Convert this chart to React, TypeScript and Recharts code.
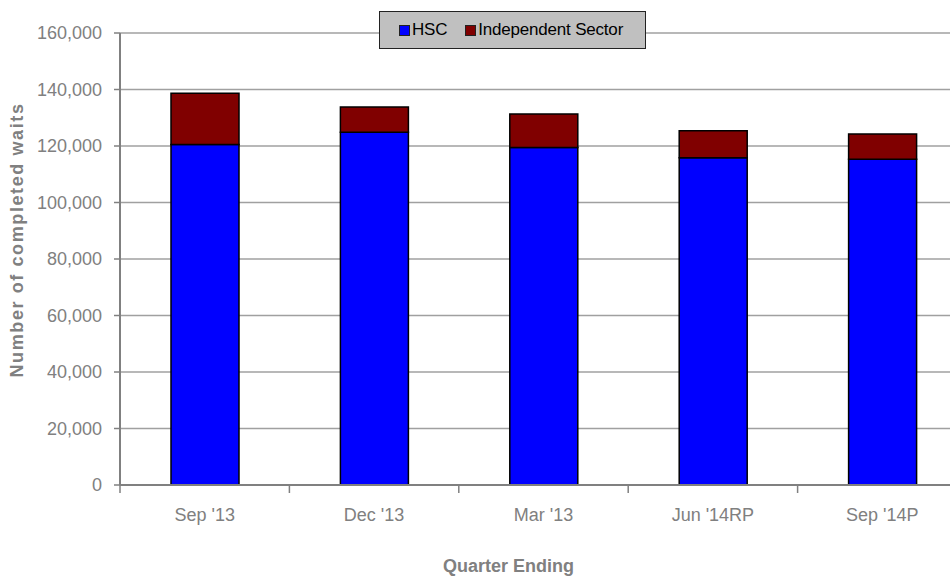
import React from 'react';
import { BarChart, Bar, XAxis, YAxis, CartesianGrid, Legend, Label } from 'recharts';

const quarters = ["Sep '13", "Dec '13", "Mar '13", "Jun '14RP", "Sep '14P"];
const hscValues = [120500, 124900, 119500, 115850, 115300];
const independentValues = [18200, 8900, 11800, 9550, 8950];
const yTicks = [0, 20000, 40000, 60000, 80000, 100000, 120000, 140000, 160000];

const rows = quarters.map((q, i) => ({ quarter: q, hsc: hscValues[i], independent: independentValues[i] }));

const CHART_W = 967;
const CHART_H = 576;
const PLOT_LEFT = 120;
const BAND = (CHART_W - PLOT_LEFT) / quarters.length;
const GREY = '#808080';
const LEGEND_H = 38;

function QuarterTick(props: any) {
  const { x, y, payload } = props;
  const edge = x - BAND / 2;
  return (
    <g>
      <line x1={edge} y1={y} x2={edge} y2={y + 8} stroke={GREY} strokeWidth={1.5} />
      <text x={x} y={y + 36} textAnchor="middle" fill={GREY} fontSize={18}>{payload.value}</text>
    </g>
  );
}

function LegendBox() {
  const item = (color: string, text: string) => (
    <span style={{ display: 'inline-flex', alignItems: 'center', marginRight: 18 }}>
      <span style={{ width: 9, height: 9, background: color, border: '1px solid #222', marginRight: 2 }} />
      <span style={{ fontSize: 17, color: '#000', letterSpacing: -0.2 }}>{text}</span>
    </span>
  );
  return (
    <div style={{ background: '#c0c0c0', border: '1.5px solid #222', height: LEGEND_H, display: 'flex', alignItems: 'center', paddingLeft: 19, boxSizing: 'border-box' }}>
      {item('#0000ff', 'HSC')}
      {item('#800000', 'Independent Sector')}
    </div>
  );
}

function YTitle(props: any) {
  const { viewBox } = props;
  const cx = 17;
  const cy = viewBox.y + viewBox.height / 2 - 19;
  return (
    <text x={cx} y={cy} transform={`rotate(-90 ${cx} ${cy})`} textAnchor="middle" dominantBaseline="central"
      fill={GREY} fontSize={18} fontWeight="bold" letterSpacing={1.6}>
      Number of completed waits
    </text>
  );
}

function XTitle(props: any) {
  const { viewBox } = props;
  const cx = viewBox.x + viewBox.width / 2 - 35;
  return (
    <text x={cx} y={572} textAnchor="middle" fill={GREY} fontSize={18} fontWeight="bold">Quarter Ending</text>
  );
}

export default function App() {
  return (
    <div style={{ position: 'absolute', left: 0, top: 0, width: 950, height: 576, overflow: 'hidden', background: '#fff', fontFamily: '"Liberation Sans", Arial, sans-serif' }}>
      <BarChart width={CHART_W} height={CHART_H} data={rows} margin={{ top: 33, right: 0, left: 0, bottom: 0 }} barSize={68}>
        <CartesianGrid vertical={false} stroke="#a0a0a0" strokeWidth={1.5} />
        <XAxis dataKey="quarter" height={91 - LEGEND_H} axisLine={{ stroke: GREY, strokeWidth: 2 }} tickLine={false} tickSize={0} tickMargin={0} tick={<QuarterTick />} interval={0}>
          <Label content={<XTitle />} />
        </XAxis>
        <YAxis width={PLOT_LEFT} domain={[0, 160000]} ticks={yTicks} interval={0}
          tickFormatter={(v: number) => v.toLocaleString('en-US')}
          tick={{ fill: GREY, fontSize: 18 }} tickSize={6} tickMargin={12}
          axisLine={{ stroke: GREY, strokeWidth: 2 }} tickLine={{ stroke: GREY, strokeWidth: 1.5 }}>
          <Label content={<YTitle />} />
        </YAxis>
        <Legend content={<LegendBox />} wrapperStyle={{ position: 'absolute', top: 11, left: 379, width: 267, height: LEGEND_H }} />
        <Bar dataKey="hsc" name="HSC" stackId="a" fill="#0000ff" stroke="#000" strokeWidth={1.5} isAnimationActive={false} />
        <Bar dataKey="independent" name="Independent Sector" stackId="a" fill="#800000" stroke="#000" strokeWidth={1.5} isAnimationActive={false} />
      </BarChart>
    </div>
  );
}
